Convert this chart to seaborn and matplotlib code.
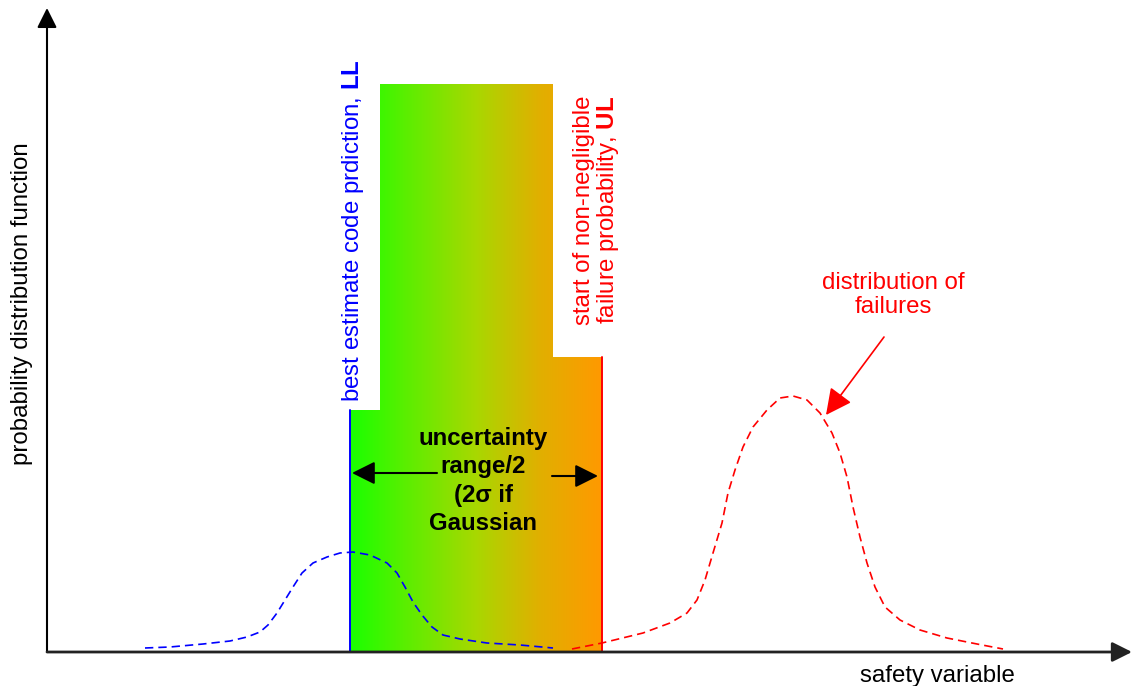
import numpy as np
import matplotlib
matplotlib.use("Agg")
import matplotlib.pyplot as plt
from matplotlib.colors import LinearSegmentedColormap
from matplotlib.patches import Polygon
import seaborn as sns

# DATA (x = safety variable, y = pdf, arbitrary units)
best_x = [98, 123, 156, 183, 200, 213, 221, 230, 238, 246, 255, 266, 280, 293, 306,
          323, 340, 350, 358, 366, 375, 385, 396, 413, 440, 473, 506]
best_y = [4, 5, 8, 11, 15, 20, 27, 39, 52, 65, 79, 89, 95, 99, 100,
          97, 89, 79, 65, 50, 37, 25, 17, 13, 9, 7, 4]

fail_x = [525, 555, 596, 623, 640, 650, 658, 666, 675, 681, 688, 696, 706, 720, 733, 746,
          760, 773, 785, 793, 800, 806, 813, 820, 828, 838, 853, 873, 900, 930, 956]
fail_y = [3, 9, 19, 29, 39, 52, 72, 99, 129, 159, 182, 205, 225, 242, 254, 256,
          252, 239, 219, 199, 175, 145, 115, 89, 65, 45, 32, 22, 14, 8, 3]

LL = 303          # best estimate code prediction
UL = 555          # start of non-negligible failure probability
band_top = 568
LL_top = 242
UL_top = 295

grad_stops = [0.0, 0.2, 0.5, 0.75, 1.0]
grad_colors = ["#1aff00", "#55f000", "#a8d800", "#e0b000", "#ff9900"]

# STYLE
sns.set_style("white")
plt.rcParams["font.family"] = ["Liberation Sans", "DejaVu Sans"]
plt.rcParams["mathtext.fontset"] = "custom"
plt.rcParams["mathtext.rm"] = "Liberation Sans"
plt.rcParams["mathtext.bf"] = "Liberation Sans:bold"
FS = 17.3

fig = plt.figure(figsize=(11.32, 6.86), dpi=100)
ax = fig.add_axes([0, 0, 1, 1])

# gradient band between LL and UL, clipped to the stepped outline
cmap = LinearSegmentedColormap.from_list("band", list(zip(grad_stops, grad_colors)))
grad = np.linspace(0, 1, 256)[np.newaxis, :]
im = ax.imshow(grad, extent=(LL, UL, 0, band_top), cmap=cmap, aspect="auto",
               interpolation="bilinear", zorder=1)
outline = Polygon([(LL, 0), (LL, LL_top), (LL + 30, LL_top), (LL + 30, band_top),
                   (UL - 49, band_top), (UL - 49, UL_top), (UL, UL_top), (UL, 0)],
                  closed=True, facecolor="none", edgecolor="none", transform=ax.transData)
ax.add_patch(outline)
im.set_clip_path(outline)

ax.plot([LL, LL], [0, LL_top], color="blue", lw=1.4, zorder=3)
ax.plot([UL, UL], [0, UL_top], color="red", lw=1.4, zorder=3)

# distributions
sns.lineplot(x=best_x, y=best_y, ax=ax, color="blue", lw=1.2, estimator=None,
             linestyle=(0, (5, 3)), zorder=4)
sns.lineplot(x=fail_x, y=fail_y, ax=ax, color="red", lw=1.2, estimator=None,
             linestyle=(0, (5, 3)), zorder=4)

# axes with arrow heads
ax.annotate("", xy=(0, 644), xytext=(0, 0),
            arrowprops=dict(arrowstyle="-|>,head_length=0.6,head_width=0.3",
                            mutation_scale=20, lw=1.5, color="black",
                            shrinkA=0, shrinkB=0))
ax.annotate("", xy=(1085, 0), xytext=(0, 0),
            arrowprops=dict(arrowstyle="-|>,head_length=0.6,head_width=0.3",
                            mutation_scale=20, lw=2, color="#222222",
                            shrinkA=0, shrinkB=0), zorder=5)

ax.text(-25, 348, "probability distribution function", rotation=90,
        ha="center", va="center", fontsize=FS, color="black")
ax.text(890, -24, "safety variable", ha="center", va="center", fontsize=FS, color="black")

ax.text(306, 250, r"best estimate code prdiction, $\mathbf{LL}$", rotation=90,
        ha="center", va="bottom", color="blue", fontsize=FS)
ax.text(550, 442, "start of non-negligible\nfailure probability, $\\mathbf{UL}$",
        rotation=90, ha="center", va="center", multialignment="center",
        color="red", fontsize=FS, linespacing=1.05)

ax.text(436, 171, "uncertainty\nrange/2\n(2σ if\nGaussian", ha="center", va="center",
        fontsize=FS, fontweight="bold", linespacing=1.3, color="black", zorder=6)

# range arrows
ax.annotate("", xy=(LL + 2, 179), xytext=(390, 179),
            arrowprops=dict(arrowstyle="-|>,head_length=0.7,head_width=0.35",
                            mutation_scale=20, lw=1.5, color="black",
                            shrinkA=0, shrinkB=0), zorder=6)
ax.annotate("", xy=(UL - 4, 176), xytext=(505, 176),
            arrowprops=dict(arrowstyle="-|>,head_length=0.7,head_width=0.35",
                            mutation_scale=20, lw=1.5, color="black",
                            shrinkA=0, shrinkB=0), zorder=6)

ax.text(846, 357, "distribution of\nfailures", ha="center", va="center",
        color="red", fontsize=FS, linespacing=1.12)
ax.annotate("", xy=(779, 237), xytext=(837, 315),
            arrowprops=dict(arrowstyle="-|>,head_length=0.8,head_width=0.4",
                            mutation_scale=20, lw=1.2, color="red",
                            shrinkA=0, shrinkB=0))

ax.set_xlim(-47, 1085)
ax.set_ylim(-34, 652)
ax.axis("off")

fig.savefig("out.png", dpi=100)
